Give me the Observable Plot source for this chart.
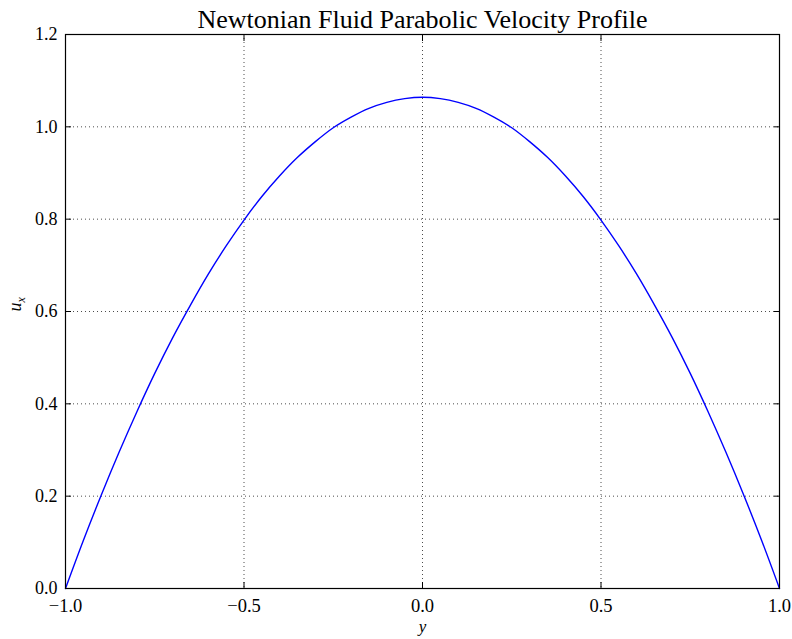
<!DOCTYPE html>
<html><head><meta charset="utf-8">
<script src="https://cdn.jsdelivr.net/npm/d3@7"></script>
<script src="https://cdn.jsdelivr.net/npm/@observablehq/plot@0.6"></script>
<style>body{margin:0;background:#fff;} svg{overflow:visible;}</style>
</head><body><div id="chart"></div>
<script>
const titleText = "Newtonian Fluid Parabolic Velocity Profile";
const xLabel = "y";
const yLabel = "u";
const ySub = "x";
const positions = [-1.0,-0.95,-0.9,-0.85,-0.8,-0.75,-0.7,-0.65,-0.6,-0.55,-0.5,-0.45,-0.4,-0.35,-0.3,-0.25,-0.2,-0.15,-0.1,-0.05,0,0.05,0.1,0.15,0.2,0.25,0.3,0.35,0.4,0.45,0.5,0.55,0.6,0.65,0.7,0.75,0.8,0.85,0.9,0.95,1.0];
const velocities = [0,0.104,0.202,0.295,0.383,0.466,0.543,0.614,0.681,0.742,0.798,0.849,0.894,0.934,0.968,0.998,1.021,1.040,1.053,1.061,1.064,1.061,1.053,1.040,1.021,0.998,0.968,0.934,0.894,0.849,0.798,0.742,0.681,0.614,0.543,0.466,0.383,0.295,0.202,0.104,0];
const xTicks = [-1.0,-0.5,0.0,0.5,1.0];
const yTicks = [0.0,0.2,0.4,0.6,0.8,1.0,1.2];

const data = positions.map((p,i)=>({p, u: velocities[i]}));
const fmt = d => d3.format(".1f")(d).replace("-", "\u2212");
const font = "'Liberation Serif', serif";

const chart = Plot.plot({
  width: 792, height: 639,
  marginLeft: 65, marginRight: 13, marginTop: 34, marginBottom: 51,
  style: {fontFamily: font, fontSize: "18.5px", color: "#000", background: "#fff"},
  x: {domain: [-1, 1]},
  y: {domain: [0, 1.2]},
  marks: [
    Plot.gridX(xTicks, {stroke: "#000", strokeOpacity: 0.7, strokeDasharray: "1,3"}),
    Plot.gridY(yTicks, {stroke: "#000", strokeOpacity: 0.7, strokeDasharray: "1,3"}),
    Plot.line(data, {x: "p", y: "u", stroke: "#0000ff", strokeWidth: 1.4, curve: "catmull-rom"}),
    Plot.frame({stroke: "#000", strokeWidth: 1.2}),
    Plot.axisX(xTicks, {anchor: "bottom", tickSize: -6, tickPadding: 16, tickFormat: fmt, label: null, fontSize: 18.5}),
    Plot.axisX(xTicks, {anchor: "top", tickSize: -6, tickFormat: () => "", label: null}),
    Plot.axisY(yTicks, {anchor: "left", tickSize: -6, tickPadding: 14, tickFormat: fmt, label: null, fontSize: 18}),
    Plot.axisY(yTicks, {anchor: "right", tickSize: -6, tickFormat: () => "", label: null}),
    Plot.text([titleText], {frameAnchor: "top", lineAnchor: "bottom", dy: -7, fontSize: 26, fill: "#000"}),
    Plot.text([xLabel], {frameAnchor: "bottom", dy: 43, fontSize: 17, fontStyle: "italic", fill: "#000"}),
    Plot.text([yLabel], {frameAnchor: "left", dx: -50, rotate: -90, fontSize: 18, fontStyle: "italic", fill: "#000", className: "ylab"})
  ]
});
document.getElementById("chart").appendChild(chart);
d3.select(chart).selectAll(".ylab text").each(function(){
  const t = d3.select(this);
  t.append("tspan").attr("dy", "0.3em").attr("font-size", "12px").text(ySub);
});
</script></body></html>
